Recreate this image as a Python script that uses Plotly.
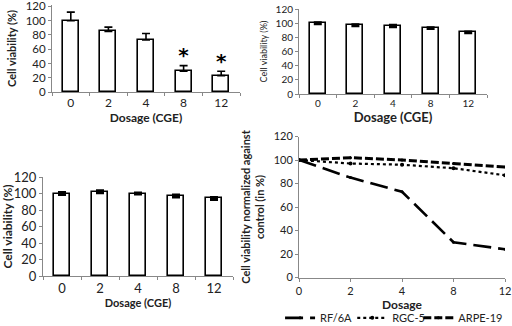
import plotly.graph_objects as go

dosage = ["0", "2", "4", "8", "12"]
rf6a = [100, 85, 73, 29, 23]
rf6a_err = [12, 6, 9, 8, 6]
rgc5 = [100, 97, 96, 93, 87]
rgc5_err = [1, 1, 1.5, 1, 1]
arpe19 = [100, 102, 100, 97, 94]
arpe19_err = [1.5, 1.5, 1, 1.5, 1.5]
rf6a_line = [100, 85, 73, 30, 24]
sig = [False, False, False, True, True]
yticks = [0, 20, 40, 60, 80, 100, 120]

FONT = "Lato"
fig = go.Figure()

def bars(vals, errs, xa, ya, sym):
    fig.add_trace(go.Bar(
        x=dosage, y=vals, xaxis=xa, yaxis=ya, width=0.43,
        marker=dict(color="white", line=dict(color="black", width=1.6)),
        error_y=dict(type="data", array=errs, symmetric=sym,
                     arrayminus=None if sym else [0]*len(errs),
                     color="black", thickness=1.6 if not sym else 2.5, width=4),
        showlegend=False))

bars(rf6a, rf6a_err, "x", "y", False)
bars(rgc5, rgc5_err, "x2", "y2", True)
bars(arpe19, arpe19_err, "x3", "y3", True)

# significance asterisks
sx = [d for d, s in zip(dosage, sig) if s]
sy = [v + e + 12 for v, e, s in zip(rf6a, rf6a_err, sig) if s]
fig.add_trace(go.Scatter(x=sx, y=sy, mode="text", text=["<b>*</b>"]*len(sx),
                         textfont=dict(size=20, color="black", family="DejaVu Sans"),
                         xaxis="x", yaxis="y", showlegend=False))

idx = list(range(len(dosage)))
fig.add_trace(go.Scatter(x=idx, y=rf6a_line, name="RF/6A", xaxis="x4", yaxis="y4",
                         legend="legend",
                         mode="lines+markers", marker=dict(size=3, color="black"),
                         line=dict(color="black", width=2.6, dash="18px,7px")))
fig.add_trace(go.Scatter(x=idx, y=rgc5, name="RGC-5", xaxis="x4", yaxis="y4",
                         legend="legend2",
                         mode="lines+markers", marker=dict(size=4, color="black"),
                         line=dict(color="black", width=2.2, dash="dot")))
fig.add_trace(go.Scatter(x=idx, y=arpe19, name="ARPE-19", xaxis="x4", yaxis="y4",
                         legend="legend3",
                         mode="lines+markers", marker=dict(size=3, color="black"),
                         line=dict(color="black", width=3, dash="8px,3px")))

def ax_x(domain, anchor, fs, title, tfs):
    return dict(domain=domain, anchor=anchor, type="category", automargin=False,
                ticklabeloverflow="allow",
                showline=True, linecolor="#888", linewidth=1,
                ticks="outside", tickson="boundaries", ticklen=3, tickcolor="#888",
                tickfont=dict(size=fs, color="#222", family=FONT),
                title=dict(text=f"<b>{title}</b>", font=dict(size=tfs, color="#222", family=FONT), standoff=4),
                range=[-0.5, 4.5], showgrid=False, zeroline=False, fixedrange=True)

def ax_y(domain, anchor, fs, title, tfs, top=120, standoff=6):
    return dict(domain=domain, anchor=anchor, range=[0, top], tickvals=yticks, automargin=False,
                ticklabeloverflow="allow",
                showline=True, linecolor="#888", linewidth=1,
                ticks="outside", ticklen=3, tickcolor="#888",
                tickfont=dict(size=fs, color="#222", family=FONT),
                title=dict(text=title, font=dict(size=tfs, color="#222", family=FONT), standoff=standoff),
                showgrid=False, zeroline=False, fixedrange=True)

def leg(x):
    return dict(orientation="h", x=x, y=0.025, xanchor="left", yanchor="middle",
                font=dict(size=11, color="#222", family=FONT), itemwidth=30,
                bgcolor="rgba(0,0,0,0)")

W, H = 512, 326
fig.update_layout(
    width=W, height=H, margin=dict(l=0, r=0, t=0, b=0, autoexpand=False),
    paper_bgcolor="white", plot_bgcolor="white",
    font=dict(family=FONT, color="#222"),
    xaxis=ax_x([52/W, 240/W], "y", 12, "Dosage (CGE)", 12),
    yaxis=ax_y([1-92/H, 1-5/H], "x", 11.5, "<b>Cell viability (%)</b>", 11, top=122),
    xaxis2=ax_x([299/W, 487/W], "y2", 10, "Dosage (CGE)", 13),
    yaxis2=ax_y([1-94/H, 1-9/H], "x2", 10, "Cell viability (%)", 9),
    xaxis3=ax_x([43/W, 233/W], "y3", 13, "Dosage (CGE)", 11),
    yaxis3=ax_y([1-276/H, 1-177/H], "x3", 13, "<b>Cell viability (%)</b>", 12),
    xaxis4=dict(domain=[299/W, 505/W], anchor="y4", range=[0, 4], automargin=False,
                ticklabeloverflow="allow",
                tickvals=idx, ticktext=dosage,
                showline=True, linecolor="#888", linewidth=1,
                ticks="outside", ticklen=3, tickcolor="#888",
                tickfont=dict(size=11, color="#222", family=FONT),
                title=dict(text="<b>Dosage</b>", font=dict(size=12, color="#222", family=FONT), standoff=3),
                showgrid=False, zeroline=False, fixedrange=True),
    yaxis4=ax_y([1-277.5/H, 1-136.5/H], "x4", 11,
                "<b>Cell viability normalized against<br>control (in %)</b>", 11),
    legend=leg(0.547),
    legend2=leg(0.688),
    legend3=leg(0.817),
    bargap=0,
)
fig.write_html("out.html")
